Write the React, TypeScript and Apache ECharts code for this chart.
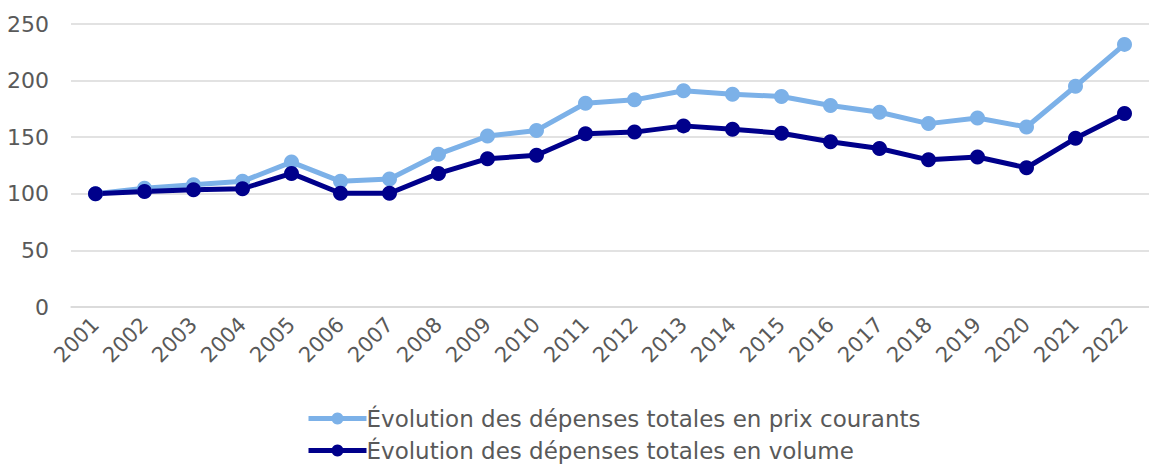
import React, { useEffect, useRef } from "react";
import * as echarts from "echarts";

const years = ["2001","2002","2003","2004","2005","2006","2007","2008","2009","2010","2011","2012","2013","2014","2015","2016","2017","2018","2019","2020","2021","2022"];
const courants = [100, 105, 108, 111, 128, 111, 113, 135, 151, 156, 180, 183, 191, 188, 186, 178, 172, 162, 167, 159, 195, 232];
const volume = [100, 102, 103.5, 104.5, 118, 100.5, 100.5, 118, 131, 134, 153, 154.5, 160, 157, 153.5, 146, 140, 130, 132.5, 123, 149, 171];
const yTicks = [0, 50, 100, 150, 200, 250];

const seriesNames = [
  "Évolution des dépenses totales en prix courants",
  "Évolution des dépenses totales en volume",
];

export default function App() {
  const ref = useRef<HTMLDivElement>(null);
  useEffect(() => {
    if (!ref.current) return;
    const chart = echarts.init(ref.current, undefined, { renderer: "svg" });
    const font = "'DejaVu Sans', 'Liberation Sans', Arial, sans-serif";
    chart.setOption({
      animation: false,
      textStyle: { fontFamily: font },
      grid: { left: 71, right: -15, top: 24, bottom: 158, containLabel: false },
      xAxis: {
        type: "category",
        data: years,
        boundaryGap: true,
        axisLine: { show: true, lineStyle: { color: "#d9d9d9", width: 1.5 } },
        axisTick: { show: false },
        axisLabel: { rotate: 45, color: "#595959", fontSize: 21, fontFamily: font, margin: 14, interval: 0 },
      },
      yAxis: {
        type: "value",
        min: yTicks[0],
        max: yTicks[yTicks.length - 1],
        interval: 50,
        axisLine: { show: false },
        axisTick: { show: false },
        splitLine: { lineStyle: { color: "#d9d9d9", width: 1.5 } },
        axisLabel: { color: "#595959", fontSize: 22, fontFamily: font, margin: 22 },
      },
      legend: {
        orient: "vertical",
        left: 306,
        top: 405,
        height: 120,
        padding: 0,
        itemWidth: 58,
        itemHeight: 15,
        itemGap: 5,
        lineStyle: { width: 5 },
        textStyle: { color: "#595959", fontSize: 23, fontFamily: font, padding: [0, 0, 0, -5], lineHeight: 27 },
        data: seriesNames,
      },
      series: [
        {
          name: seriesNames[0],
          type: "line",
          data: courants,
          symbol: "circle",
          symbolSize: 15,
          lineStyle: { width: 5, color: "#7cb1e8" },
          itemStyle: { color: "#7cb1e8" },
        },
        {
          name: seriesNames[1],
          type: "line",
          data: volume,
          symbol: "circle",
          symbolSize: 15,
          lineStyle: { width: 5, color: "#00008b" },
          itemStyle: { color: "#00008b" },
        },
      ],
    });
    return () => chart.dispose();
  }, []);
  return (
    <div
      ref={ref}
      style={{ position: "absolute", left: 0, top: 0, width: 1149, height: 465, background: "#fff" }}
    />
  );
}
